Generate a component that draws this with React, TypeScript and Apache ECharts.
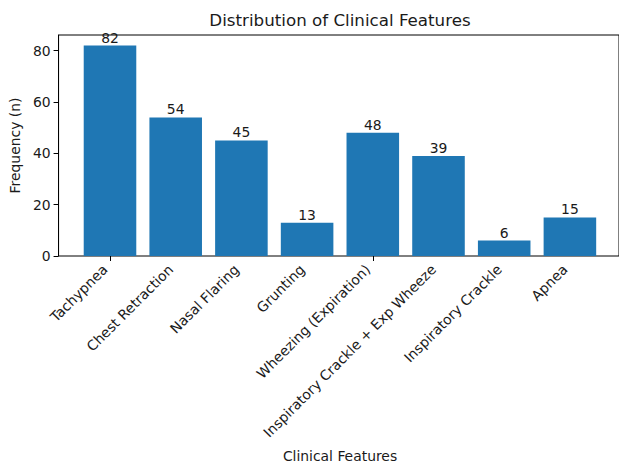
import React, { useEffect, useRef } from "react";
import * as echarts from "echarts";

const categories = [
  "Tachypnea",
  "Chest Retraction",
  "Nasal Flaring",
  "Grunting",
  "Wheezing (Expiration)",
  "Inspiratory Crackle + Exp Wheeze",
  "Inspiratory Crackle",
  "Apnea",
];
const frequencies = [82, 54, 45, 13, 48, 39, 6, 15];
const yTicks = [0, 20, 40, 60, 80];

const FONT = "DejaVu Sans";
const TXT = "#1a1a1a";

export default function App() {
  const ref = useRef<HTMLDivElement>(null);
  useEffect(() => {
    if (!ref.current) return;
    const chart = echarts.init(ref.current, undefined, { renderer: "svg" });
    const yMax = Math.max(...frequencies) * 1.05;
    const top = 35;
    const height = 221;
    const frameLeft = 58;
    const frameWidth = 564;
    const band = 65.7;
    const barsLeft = 110 - band / 2;
    chart.setOption({
      animation: false,
      grid: [
        {
          left: frameLeft,
          top,
          width: frameWidth,
          height,
          show: true,
          borderColor: "#000",
          borderWidth: 1,
          backgroundColor: "transparent",
        },
        { left: barsLeft, top, width: band * categories.length, height },
        { left: barsLeft - 5, top, width: band * categories.length, height },
      ],
      xAxis: [
        { type: "value", gridIndex: 0, show: false, min: 0, max: 1 },
        {
          type: "category",
          gridIndex: 1,
          data: categories,
          boundaryGap: true,
          axisLine: { show: false },
          axisTick: { show: true, alignWithLabel: true, length: 5, lineStyle: { color: "#000" } },
          axisLabel: { show: false },
        },
        {
          type: "category",
          gridIndex: 2,
          data: categories,
          boundaryGap: true,
          axisLine: { show: false },
          axisTick: { show: false },
          axisLabel: {
            show: true,
            interval: 0,
            rotate: 45,
            margin: 11,
            fontFamily: FONT,
            fontSize: 13.9,
            color: TXT,
          },
        },
      ],
      yAxis: [
        {
          type: "value",
          gridIndex: 0,
          min: 0,
          max: yMax,
          name: "Frequency (n)",
          nameLocation: "middle",
          nameGap: 30,
          nameTextStyle: { fontFamily: FONT, fontSize: 13.9, color: TXT },
          axisLine: { show: true, lineStyle: { color: "#000" } },
          axisTick: { show: true, length: 5, customValues: yTicks, lineStyle: { color: "#000" } },
          axisLabel: {
            customValues: yTicks,
            fontFamily: FONT,
            fontSize: 13.9,
            color: TXT,
            margin: 8,
          },
          splitLine: { show: false },
        },
        { type: "value", gridIndex: 1, min: 0, max: yMax, show: false },
        { type: "value", gridIndex: 2, min: 0, max: yMax, show: false },
      ],
      series: [
        {
          type: "bar",
          xAxisIndex: 1,
          yAxisIndex: 1,
          data: frequencies,
          barWidth: "80%",
          itemStyle: { color: "#1f77b4" },
          label: {
            show: true,
            position: "top",
            distance: 1,
            fontFamily: FONT,
            fontSize: 13.9,
            color: TXT,
          },
        },
      ],
      graphic: [
        {
          type: "text",
          x: 340,
          y: 20,
          style: {
            text: "Distribution of Clinical Features",
            fontFamily: FONT,
            fontSize: 16.7,
            fill: TXT,
            align: "center",
            verticalAlign: "middle",
          },
        },
        {
          type: "text",
          x: 340,
          y: 456,
          style: {
            text: "Clinical Features",
            fontFamily: FONT,
            fontSize: 13.9,
            fill: TXT,
            align: "center",
            verticalAlign: "middle",
          },
        },
      ],
    });
    return () => chart.dispose();
  }, []);
  return (
    <div
      ref={ref}
      style={{ position: "fixed", left: 0, top: 0, width: 619, height: 463, background: "#fff" }}
    />
  );
}
